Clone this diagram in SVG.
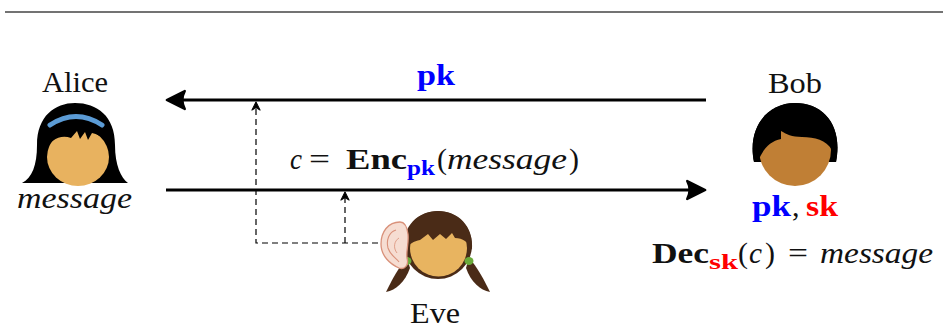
<svg xmlns="http://www.w3.org/2000/svg" width="943" height="328" viewBox="0 0 943 328">
  <style>
    .t { font-family: 'Liberation Serif', 'DejaVu Serif', 'Noto Serif', serif; fill: #111; font-size: 30px; }
    .sub { font-size: 21px; }
    .it { font-style: italic; }
    .bf { font-weight: bold; }
    .blue { fill: #0000ff; }
    .red { fill: #ff0000; }
    .main { stroke: #000; stroke-width: 3; fill: none; }
    .dash { stroke: #000; stroke-width: 1.2; fill: none; stroke-dasharray: 6 4; }
    .black { fill: #000; }
  </style>
  <defs>
    <marker id="head" markerUnits="userSpaceOnUse" markerWidth="24" markerHeight="24" viewBox="-16 -10 20 20" refX="0" refY="0" orient="auto">
      <path d="M 1,0 L -14,-7.5 Q -10,0 -14,7.5 Z" fill="#000" stroke="#000" stroke-width="2" stroke-linejoin="round"/>
    </marker>
    <marker id="tip" markerUnits="userSpaceOnUse" markerWidth="12" markerHeight="12" viewBox="-8 -5 10 10" refX="0" refY="0" orient="auto">
      <path d="M 1,0 L -6,-3.5 L -4,0 L -6,3.5 Z" fill="#000" stroke="#000" stroke-width="0.8" stroke-linejoin="round"/>
    </marker>
  </defs>

  <!-- top rule -->
  <line x1="5" y1="12" x2="943" y2="12" stroke="#444" stroke-width="1.5"/>

  <!-- Alice -->
  <g id="alice">
    <text class="t" x="42" y="92" textLength="66" lengthAdjust="spacingAndGlyphs">Alice</text>
    <path class="black" d="M 22,183 C 32,178 37,165 37,145 C 37,116 55,103 75,103 C 97,103 115,116 115,145 C 115,165 121,178 128,183 Z"/>
    <ellipse cx="78" cy="157" rx="31" ry="29" fill="#e8b25f"/>
    <path class="black" d="M 45,152 C 44,120 58,108 77,108 C 97,108 111,120 111,152 C 108,142 102,135 92,133 L 88,140 L 85,132 L 80,139 L 77,131 L 71,138 C 60,134 50,140 45,152 Z"/>
    <path d="M 50,125 Q 76,108 102,125" stroke="#5b9bd5" stroke-width="5" fill="none" stroke-linecap="round"/>
    <text class="t it" x="17" y="208" textLength="115" lengthAdjust="spacingAndGlyphs">message</text>
  </g>

  <!-- Bob -->
  <g id="bob">
    <text class="t" x="768" y="93" textLength="54" lengthAdjust="spacingAndGlyphs">Bob</text>
    <path class="black" d="M 754,162 C 747,128 767,103 795,103 C 824,103 843,126 836,162 Z"/>
    <circle cx="795" cy="150" r="36" fill="#c07f35"/>
    <path class="black" d="M 754,162 C 747,128 767,103 795,103 C 824,103 843,126 836,162 L 832,150 C 826,140 815,137 802,137 C 792,137 786,134 781,131 L 781,139 C 770,141 762,150 758,162 Z"/>
    <text class="t bf blue" x="752" y="216" textLength="39" lengthAdjust="spacingAndGlyphs">pk</text>
    <text class="t" x="792" y="216">,</text>
    <text class="t bf red" x="806" y="216" textLength="32" lengthAdjust="spacingAndGlyphs">sk</text>
    <!-- decryption equation -->
    <text class="t bf" x="652" y="263" textLength="57" lengthAdjust="spacingAndGlyphs">Dec</text>
    <text class="t sub bf red" x="709" y="269" textLength="29" lengthAdjust="spacingAndGlyphs">sk</text>
    <text class="t" x="738" y="263">(</text>
    <text class="t it" x="749" y="263" textLength="13" lengthAdjust="spacingAndGlyphs">c</text>
    <text class="t" x="765" y="263">)</text>
    <text class="t" x="788" y="263" textLength="20" lengthAdjust="spacingAndGlyphs">=</text>
    <text class="t it" x="820" y="263" textLength="113" lengthAdjust="spacingAndGlyphs">message</text>
  </g>

  <!-- Eve -->
  <g id="eve">
    <path d="M 407,258 C 398,268 392,280 386,292 C 396,290 405,282 410,268 Z" fill="#4a2b17"/>
    <path d="M 469,258 C 478,268 484,280 490,292 C 480,290 471,282 466,268 Z" fill="#4a2b17"/>
    <circle cx="438" cy="245" r="34" fill="#4a2b17"/>
    <ellipse cx="407" cy="261" rx="4.5" ry="4" fill="#6aaa3a"/>
    <ellipse cx="469" cy="261" rx="4.5" ry="4" fill="#6aaa3a"/>
    <circle cx="438.5" cy="248" r="28.5" fill="#e8b460"/>
    <path d="M 404,250 C 402,226 418,211 438,211 C 458,211 474,226 472,250 C 468,242 463,238 455,238 L 452,233 L 446,239 L 440,234 L 433,240 L 428,234 L 420,240 C 414,241 409,244 404,250 Z" fill="#4a2b17"/>
    <path d="M 400,222 C 388,222 381,232 381,244 C 381,256 390,264 399,268 C 405,270 409,265 407,258 C 406,250 409,244 408,234 C 407,226 404,222 400,222 Z" fill="#f6ddd2" stroke="#d9917a" stroke-width="1.3"/>
    <path d="M 396,230 C 389,232 386,240 388,248 C 390,255 396,258 399,262" stroke="#d9917a" stroke-width="1.1" fill="none"/>
    <path d="M 399,238 C 394,241 393,248 397,253" stroke="#e0a08a" stroke-width="1" fill="none"/>
    <text class="t" x="410" y="323" textLength="50" lengthAdjust="spacingAndGlyphs">Eve</text>
  </g>

  <!-- channel labels -->
  <g id="labels">
    <text class="t bf blue" x="417" y="85" textLength="38" lengthAdjust="spacingAndGlyphs">pk</text>
    <!-- encryption equation -->
    <text class="t it" x="290" y="169" textLength="12" lengthAdjust="spacingAndGlyphs">c</text>
    <text class="t" x="309" y="169" textLength="21" lengthAdjust="spacingAndGlyphs">=</text>
    <text class="t bf" x="346" y="169" textLength="61" lengthAdjust="spacingAndGlyphs">Enc</text>
    <text class="t sub bf blue" x="407" y="175" textLength="28" lengthAdjust="spacingAndGlyphs">pk</text>
    <text class="t" x="437" y="169">(</text>
    <text class="t it" x="447" y="169" textLength="120" lengthAdjust="spacingAndGlyphs">message</text>
    <text class="t" x="569" y="169">)</text>
  </g>

  <!-- connectors -->
  <g id="connectors">
    <line class="main" x1="706" y1="100" x2="168" y2="100" marker-end="url(#head)"/>
    <line class="main" x1="166" y1="190" x2="704" y2="190" marker-end="url(#head)"/>
    <path class="dash" d="M 378,243 L 256,243 L 256,103" marker-end="url(#tip)"/>
    <path class="dash" d="M 345,243 L 345,193" marker-end="url(#tip)"/>
  </g>
</svg>
